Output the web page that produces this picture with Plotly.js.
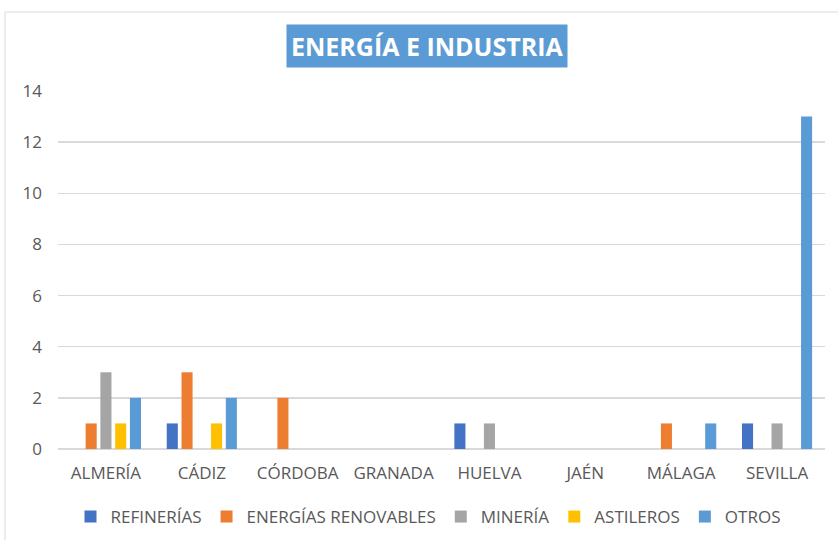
<!DOCTYPE html>
<html><head><meta charset="utf-8">
<script src="https://cdn.plot.ly/plotly-3.0.1.min.js"></script>
<style>html,body{margin:0;padding:0;background:#fff}#c{width:838px;height:540px}</style>
</head><body><div id="c"></div>
<script>
const categories = ["ALMERÍA","CÁDIZ","CÓRDOBA","GRANADA","HUELVA","JAÉN","MÁLAGA","SEVILLA"];
const seriesNames = ["REFINERÍAS","ENERGÍAS RENOVABLES","MINERÍA","ASTILEROS","OTROS"];
const refinerias = [0,1,0,0,1,0,0,1];
const renovables = [1,3,2,0,0,0,1,0];
const mineria    = [3,0,0,0,1,0,0,1];
const astilleros = [1,1,0,0,0,0,0,0];
const otros      = [2,2,0,0,0,0,1,13];
const yTicks = [0,2,4,6,8,10,12,14];
const colors = ["#4472C4","#ED7D31","#A5A5A5","#FFC000","#5B9BD5"];
const values = [refinerias, renovables, mineria, astilleros, otros];

const font = {family:"Open Sans, sans-serif", size:17, color:"#595959"};
const traces = values.map((v,i)=>({
  type:"bar", name:seriesNames[i], x:categories, y:v,
  marker:{color:colors[i]}, hoverinfo:"x+y+name"
}));

const layout = {
  width:838, height:540,
  paper_bgcolor:"#fff", plot_bgcolor:"#fff",
  margin:{l:58, r:13, t:91, b:91},
  barmode:"group", bargap:0.23, bargroupgap:0.25,
  font:font,
  xaxis:{type:"category", showgrid:false, zeroline:false, showline:false, ticks:"",
         tickfont:font, ticklabelstandoff:12, automargin:false, fixedrange:true},
  yaxis:{range:[0,14], tickvals:yTicks, showgrid:true, gridcolor:"#D9D9D9", gridwidth:1.5,
         zeroline:true, zerolinecolor:"#D9D9D9", zerolinewidth:1.5, showline:false, ticks:"",
         tickfont:font, ticklabelstandoff:15, automargin:false, fixedrange:true},
  showlegend:true,
  legend:{orientation:"h", xref:"container", yref:"container",
          x:428/838, xanchor:"center", y:1-517/540, yanchor:"middle",
          font:font, traceorder:"normal"},
  annotations:[{
    text:"<b>ENERGÍA E INDUSTRIA</b>", xref:"paper", yref:"paper",
    x:(427-58)/767, y:1+(91-46)/358, xanchor:"center", yanchor:"middle",
    showarrow:false, bgcolor:"#5B9BD5", borderpad:4,
    font:{family:"Open Sans, sans-serif", size:25, color:"#fff"}
  }],
  shapes:[{type:"rect", xref:"paper", yref:"paper",
    x0:-53/767, x1:1.03, y0:-0.3, y1:1+(91-12)/358,
    line:{color:"#D9D9D9", width:1}, fillcolor:"rgba(0,0,0,0)", layer:"below"}]
};
Plotly.newPlot("c", traces, layout, {displayModeBar:false, staticPlot:true});
</script></body></html>
